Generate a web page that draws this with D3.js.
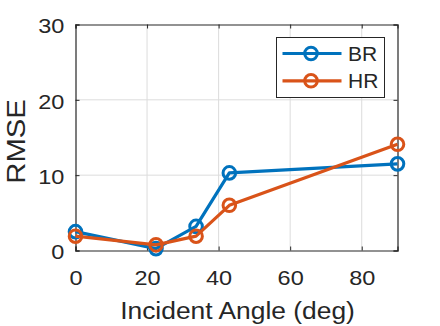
<!DOCTYPE html>
<html><head><meta charset="utf-8">
<script src="https://cdn.jsdelivr.net/npm/d3@7"></script>
<style>body{margin:0;background:#fff;}svg{display:block;font-family:"Liberation Sans",Arial,sans-serif;}</style>
</head><body>
<svg id="c" width="440" height="326"></svg>
<script>
const angles = [0, 22.5, 33.7, 43, 90];
const brValues = [2.5, 0.25, 3.2, 10.3, 11.5];
const hrValues = [1.9, 0.75, 1.9, 6.0, 14.1];
const seriesNames = ["BR", "HR"];
const seriesColors = ["#0072BD", "#D95319"];
const xTicks = [0, 20, 40, 60, 80];
const yTicks = [0, 10, 20, 30];

const svg = d3.select("#c");
const L = 75.5, R = 397.5, T = 24.5, B = 250.5;
const x = d3.scaleLinear().domain([0, 90]).range([L, R]);
const y = d3.scaleLinear().domain([0, 30]).range([B, T]);
const txt = "#262626";

// grid
const g = svg.append("g");
g.selectAll(".gx").data(xTicks.filter(d=>d>0)).enter().append("line")
  .attr("x1", d=>x(d)).attr("x2", d=>x(d)).attr("y1", T).attr("y2", B)
  .attr("stroke", "#dcdcdc").attr("stroke-width", 1);
g.selectAll(".gy").data(yTicks.filter(d=>d>0 && d<30)).enter().append("line")
  .attr("x1", L).attr("x2", R).attr("y1", d=>y(d)).attr("y2", d=>y(d))
  .attr("stroke", "#dcdcdc").attr("stroke-width", 1);

// axes
const xa = svg.append("g").attr("transform", `translate(0,${B})`)
  .call(d3.axisBottom(x).tickValues(xTicks).tickSize(-4).tickPadding(20));
const ya = svg.append("g").attr("transform", `translate(${L},0)`)
  .call(d3.axisLeft(y).tickValues(yTicks).tickSize(-4).tickPadding(10));
const xt = svg.append("g").attr("transform", `translate(0,${T})`)
  .call(d3.axisTop(x).tickValues(xTicks).tickSize(-4).tickFormat(""));
const yr = svg.append("g").attr("transform", `translate(${R},0)`)
  .call(d3.axisRight(y).tickValues(yTicks).tickSize(-4).tickFormat(""));
[xa, ya, xt, yr].forEach(a => {
  a.select(".domain").attr("stroke", txt).attr("stroke-width", 1.2);
  a.selectAll(".tick line").attr("stroke", txt);
  a.selectAll("text").attr("fill", txt).attr("font-size", 21)
   .attr("font-family", "Liberation Sans, Arial, sans-serif")
   .attr("transform", "scale(1.12,1)");
});
ya.selectAll("text").attr("dy", "0.4em");

// lines
const data = [brValues, hrValues];
const line = d3.line().x((d,i)=>x(angles[i])).y(d=>y(d));
data.forEach((vals, k) => {
  svg.append("path").datum(vals).attr("d", line).attr("fill", "none")
    .attr("stroke", seriesColors[k]).attr("stroke-width", 3.2)
    .attr("stroke-linejoin", "round");
  svg.selectAll(null).data(vals).enter().append("circle")
    .attr("cx", (d,i)=>x(angles[i])).attr("cy", d=>y(d)).attr("r", 6.3)
    .attr("fill", "none").attr("stroke", seriesColors[k]).attr("stroke-width", 3);
});

// labels
svg.append("text").attr("transform", `translate(${(L+R)/2+1},319) scale(1.1,1)`).attr("text-anchor", "middle")
  .attr("font-size", 24).attr("fill", txt).text("Incident Angle (deg)");
svg.append("text").attr("transform", `translate(25,${(T+B)/2+4}) rotate(-90) scale(1.17,1)`)
  .attr("text-anchor", "middle").attr("font-size", 25).attr("fill", txt).text("RMSE");

// legend
const lg = svg.append("g");
lg.append("rect").attr("x", 276.5).attr("y", 37.5).attr("width", 108).attr("height", 60)
  .attr("fill", "#fff").attr("stroke", txt).attr("stroke-width", 1);
seriesNames.forEach((n, k) => {
  const yy = 53.5 + k * 27.3;
  lg.append("line").attr("x1", 282.5).attr("x2", 341.5).attr("y1", yy).attr("y2", yy)
    .attr("stroke", seriesColors[k]).attr("stroke-width", 3.2);
  lg.append("circle").attr("cx", 311).attr("cy", yy).attr("r", 6.3)
    .attr("fill", "none").attr("stroke", seriesColors[k]).attr("stroke-width", 3);
  lg.append("text").attr("x", 348).attr("y", yy + 7.5).attr("font-size", 21)
    .attr("fill", txt).text(n);
});
</script>
</body></html>
